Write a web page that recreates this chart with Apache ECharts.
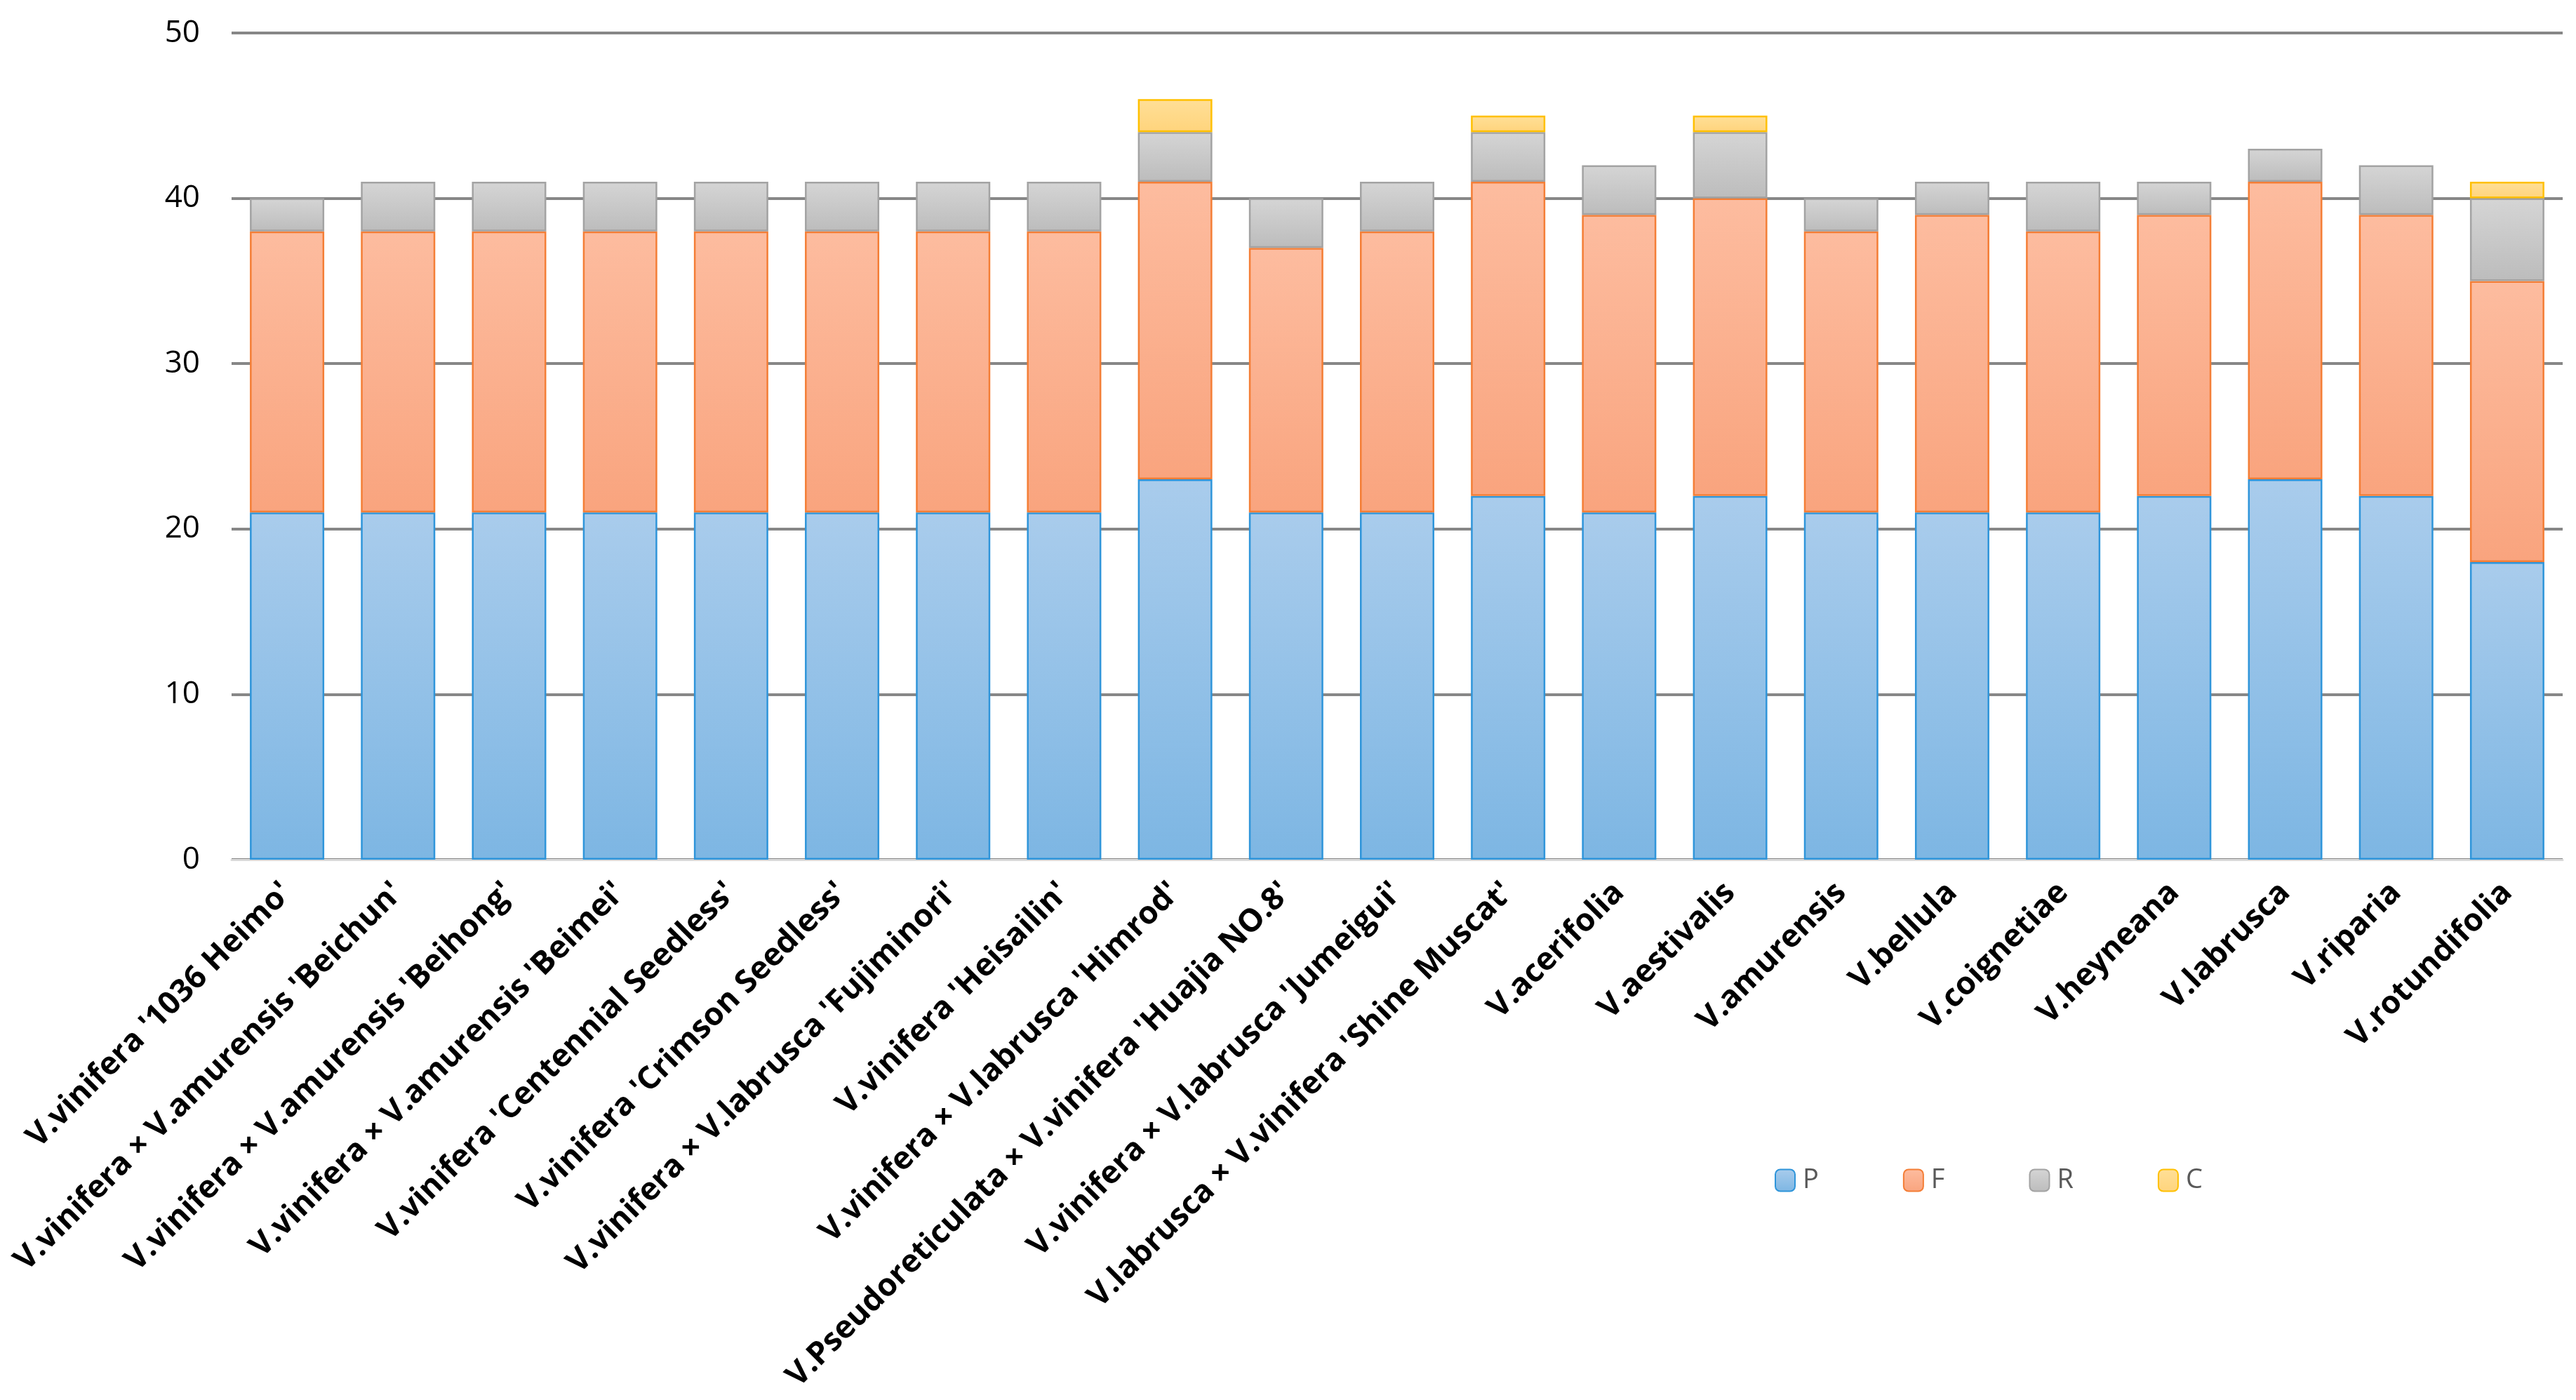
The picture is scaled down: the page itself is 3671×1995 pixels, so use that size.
<!DOCTYPE html>
<html>
<head>
<meta charset="utf-8">
<script src="https://cdn.jsdelivr.net/npm/echarts@6/dist/echarts.min.js"></script>
<style>
html,body{margin:0;padding:0;background:#fff;}
#chart{width:3671px;height:1995px;}
</style>
</head>
<body>
<div id="chart"></div>
<script>
const categories = [
  "V.vinifera '1036 Heimo'",
  "V.vinifera × V.amurensis 'Beichun'",
  "V.vinifera × V.amurensis 'Beihong'",
  "V.vinifera × V.amurensis 'Beimei'",
  "V.vinifera 'Centennial Seedless'",
  "V.vinifera 'Crimson Seedless'",
  "V.vinifera × V.labrusca 'Fujiminori'",
  "V.vinifera 'Heisailin'",
  "V.vinifera × V.labrusca 'Himrod'",
  "V.Pseudoreticulata × V.vinifera 'Huajia NO.8'",
  "V.vinifera × V.labrusca 'Jumeigui'",
  "V.labrusca × V.vinifera 'Shine Muscat'",
  "V.acerifolia",
  "V.aestivalis",
  "V.amurensis",
  "V.bellula",
  "V.coignetiae",
  "V.heyneana",
  "V.labrusca",
  "V.riparia",
  "V.rotundifolia"
];
const seriesNames = ["P", "F", "R", "C"];
const valuesP = [21, 21, 21, 21, 21, 21, 21, 21, 23, 21, 21, 22, 21, 22, 21, 21, 21, 22, 23, 22, 18];
const valuesF = [17, 17, 17, 17, 17, 17, 17, 17, 18, 16, 17, 19, 18, 18, 17, 18, 17, 17, 18, 17, 17];
const valuesR = [2, 3, 3, 3, 3, 3, 3, 3, 3, 3, 3, 3, 3, 4, 2, 2, 3, 2, 2, 3, 5];
const valuesC = [0, 0, 0, 0, 0, 0, 0, 0, 2, 0, 0, 1, 0, 1, 0, 0, 0, 0, 0, 0, 1];
const yTicks = [0, 10, 20, 30, 40, 50];

const styles = {
  P: {top: '#A9CCEC', bottom: '#7DB6E3', border: '#2F95DA'},
  F: {top: '#FDBC9F', bottom: '#F9A47E', border: '#F47E36'},
  R: {top: '#D5D5D5', bottom: '#BCBCBC', border: '#A3A3A3'},
  C: {top: '#FFDF97', bottom: '#FFD47C', border: '#FFC000'}
};
const allValues = {P: valuesP, F: valuesF, R: valuesR, C: valuesC};

function grad(s) {
  return new echarts.graphic.LinearGradient(0, 0, 0, 1, [
    {offset: 0, color: s.top},
    {offset: 1, color: s.bottom}
  ]);
}

const chart = echarts.init(document.getElementById('chart'), null, {renderer: 'canvas'});
const option = {
  backgroundColor: '#ffffff',
  animation: false,
  grid: {left: 330, right: 19, top: 47, bottom: 770, containLabel: false},
  legend: {
    data: seriesNames,
    left: 2524,
    top: 1658,
    itemWidth: 28,
    itemHeight: 31,
    itemGap: 120,
    textStyle: {fontFamily: 'Open Sans', fontSize: 38, color: '#595959', padding: [0, 0, 0, 6]}
  },
  xAxis: {
    type: 'category',
    data: categories,
    axisLine: {show: true, lineStyle: {color: '#D9D9D9', width: 3}},
    axisTick: {show: false},
    axisLabel: {
      interval: 0,
      rotate: 45,
      margin: 40,
      fontFamily: 'Open Sans',
      fontWeight: 'bold',
      fontSize: 45,
      color: '#000000'
    },
    splitLine: {show: false}
  },
  yAxis: {
    type: 'value',
    min: yTicks[0],
    max: yTicks[yTicks.length - 1],
    interval: 10,
    axisLine: {show: false},
    axisTick: {show: false},
    axisLabel: {margin: 45, fontFamily: 'Open Sans', fontSize: 44, color: '#000000'},
    splitLine: {show: true, lineStyle: {color: '#878787', width: 4}}
  },
  series: seriesNames.map(name => ({
    name: name,
    type: 'bar',
    stack: 'total',
    barWidth: '67%',
    data: allValues[name].map(v => (v === 0 ? null : v)),
    itemStyle: {
      color: grad(styles[name]),
      borderColor: styles[name].border,
      borderWidth: 2.5
    },
    emphasis: {disabled: true}
  }))
};
chart.setOption(option);
</script>
</body>
</html>
